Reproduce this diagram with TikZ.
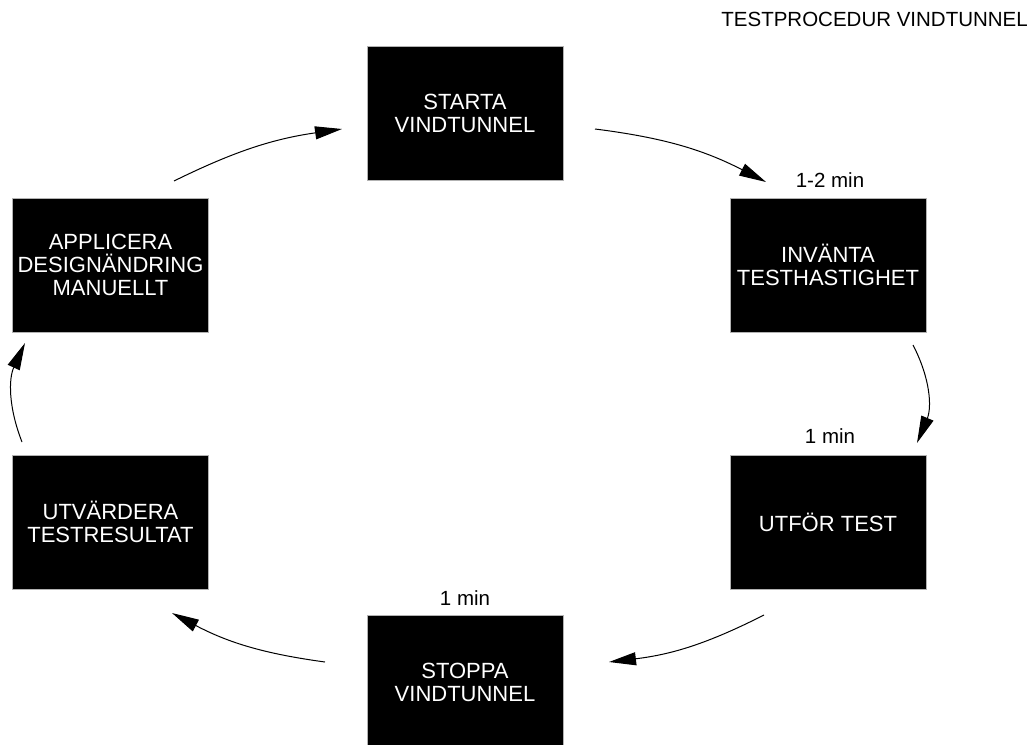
\documentclass[tikz,border=0pt]{standalone}
\usepackage{fontspec}
\setmainfont{Liberation Sans}
\usetikzlibrary{arrows.meta}
\begin{document}
\begin{tikzpicture}[x=1pt,y=1pt,
  stepbox/.style={rectangle, fill=black, draw=gray!60, line width=0.6pt, text=white,
    minimum width=196pt, minimum height=134pt, align=center, inner sep=0pt,
    font=\fontsize{22}{23}\selectfont},
  lbl/.style={font=\fontsize{20.5}{24}\selectfont, inner sep=0pt, anchor=base},
  flow/.style={line width=1pt, -{Triangle[length=27pt,width=13pt]}}]
\clip (0,0) rectangle (1035,-744);
\node[stepbox] (starta) at (465,-113.5) {STARTA\\VINDTUNNEL};
\node[stepbox] (invanta) at (828,-265) {INVÄNTA\\TESTHASTIGHET};
\node[stepbox] (utfor) at (828,-522) {UTFÖR TEST};
\node[stepbox] (stoppa) at (465,-682.5) {STOPPA\\VINDTUNNEL};
\node[stepbox] (utvardera) at (110.5,-522) {UTVÄRDERA\\TESTRESULTAT};
\node[stepbox] (applicera) at (110.5,-265) {APPLICERA\\DESIGNÄNDRING\\MANUELLT};

\node[lbl] (t12) at (830,-187) {1-2 min};
\node[lbl] (t1a) at (830,-443) {1 min};
\node[lbl] (t1b) at (465,-605) {1 min};
\node[lbl, anchor=base east] (title) at (1028,-27) {TESTPROCEDUR VINDTUNNEL};

\coordinate (a1s) at (595,-129);
\coordinate (a1e) at (766,-182);
\coordinate (a2s) at (913,-345);
\coordinate (a2e) at (917,-443);
\coordinate (a3s) at (764,-615);
\coordinate (a3e) at (609,-662);
\coordinate (a4s) at (325,-662);
\coordinate (a4e) at (172,-613);
\coordinate (a5s) at (22,-442);
\coordinate (a5e) at (25,-343);
\coordinate (a6s) at (174,-181);
\coordinate (a6e) at (342,-129);

\draw[flow] (a1s) to[bend left=10] (a1e);
\draw[flow] (a2s) to[bend left=25] (a2e);
\draw[flow] (a3s) to[bend left=10] (a3e);
\draw[flow] (a4s) to[bend left=10] (a4e);
\draw[flow] (a5s) to[bend left=23] (a5e);
\draw[flow] (a6s) to[bend left=9] (a6e);
\end{tikzpicture}
\end{document}
